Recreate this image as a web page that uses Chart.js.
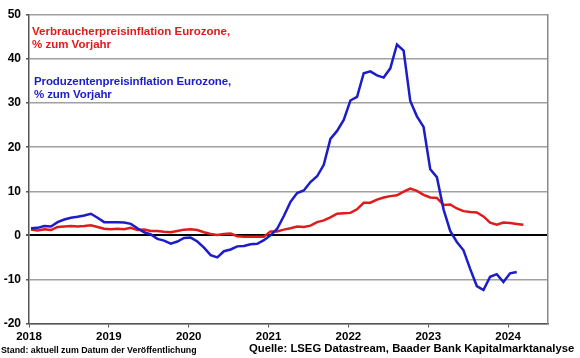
<!DOCTYPE html>
<html lang="de">
<head>
  <meta charset="UTF-8" />
  <title>Inflation Eurozone</title>
  <script src="https://cdn.jsdelivr.net/npm/chart.js"></script>
  <style>
    body {
      margin: 0;
      background: #fff;
      font-family: "Liberation Sans", Arial, sans-serif;
    }
    #wrap {
      position: relative;
      width: 580px;
      height: 358px;
    }
    .note {
      position: absolute;
      font-weight: bold;
      font-size: 11.5px;
      line-height: 12.5px;
      white-space: nowrap;
    }
    #noteCpi { left: 32px; top: 25px; color: #e01b1b; }
    #notePpi { left: 34px; top: 75px; color: #1c1cc8; letter-spacing: -0.1px; }
    .foot {
      position: absolute;
      font-weight: bold;
      white-space: nowrap;
      color: #000;
    }
    #stand { left: 1px; top: 345px; font-size: 8.8px; }
    #quelle { left: 249px; top: 342px; font-size: 11.3px; }
  </style>
</head>
<body>

<div id="wrap">
  <canvas id="chart" width="580" height="358"></canvas>
  <div class="note" id="noteCpi">Verbraucherpreisinflation Eurozone,<br>% zum Vorjahr</div>
  <div class="note" id="notePpi">Produzentenpreisinflation Eurozone,<br>% zum Vorjahr</div>
  <div class="foot" id="stand">Stand: aktuell zum Datum der Veröffentlichung</div>
  <div class="foot" id="quelle">Quelle: LSEG Datastream, Baader Bank Kapitalmarktanalyse</div>
</div>

<script>
  // monthly values starting January 2018
  const startYear = 2018;
  const yearTicks = [2018, 2019, 2020, 2021, 2022, 2023, 2024];

  // Verbraucherpreise (HICP), % yoy, Jan 2018 - Mar 2024
  const cpi = [
    1.3, 1.1, 1.4, 1.2, 1.9, 2.0, 2.1, 2.0, 2.1, 2.3, 1.9, 1.5,
    1.4, 1.5, 1.4, 1.7, 1.2, 1.3, 1.0, 1.0, 0.8, 0.7, 1.0, 1.3,
    1.4, 1.2, 0.7, 0.3, 0.1, 0.3, 0.4, -0.2, -0.3, -0.3, -0.3, -0.3,
    0.9, 0.9, 1.3, 1.6, 2.0, 1.9, 2.2, 3.0, 3.4, 4.1, 4.9, 5.0,
    5.1, 5.9, 7.4, 7.4, 8.1, 8.6, 8.9, 9.1, 9.9, 10.6, 10.1, 9.2,
    8.6, 8.5, 6.9, 7.0, 6.1, 5.5, 5.3, 5.2, 4.3, 2.9, 2.4, 2.9,
    2.8, 2.6, 2.4
  ];

  // Produzentenpreise, % yoy, Jan 2018 - Feb 2024
  const ppi = [
    1.6, 1.7, 2.1, 2.0, 3.0, 3.6, 4.0, 4.2, 4.5, 4.9, 4.0, 3.0,
    3.0, 3.0, 2.9, 2.6, 1.6, 0.7, 0.2, -0.8, -1.2, -1.9, -1.4, -0.6,
    -0.5, -1.4, -2.8, -4.5, -5.0, -3.6, -3.2, -2.5, -2.4, -2.0, -1.9, -1.1,
    0.0, 1.5, 4.4, 7.6, 9.6, 10.2, 12.1, 13.4, 16.0, 21.9, 23.7, 26.2,
    30.6, 31.4, 36.8, 37.2, 36.3, 35.8, 37.9, 43.3, 41.9, 30.5, 27.0, 24.6,
    15.0, 13.2, 5.9, 1.0, -1.5, -3.4, -7.6, -11.5, -12.4, -9.4, -8.8, -10.6,
    -8.6, -8.3
  ];

  const toPoints = arr => arr.map((v, i) => ({ x: startYear + (i + 0.3) / 12, y: v }));

  const tickFont = { family: "'Liberation Sans', Arial, sans-serif", weight: 'bold' };

  new Chart(document.getElementById("chart"), {
    type: 'line',
    data: {
      datasets: [
        {
          label: 'Produzentenpreisinflation',
          data: toPoints(ppi),
          borderColor: '#1c1cc8',
          borderWidth: 2.5,
          pointRadius: 0,
          fill: false,
          tension: 0
        },
        {
          label: 'Verbraucherpreisinflation',
          data: toPoints(cpi),
          borderColor: '#e01b1b',
          borderWidth: 2.5,
          pointRadius: 0,
          fill: false,
          tension: 0
        }
      ]
    },
    options: {
      responsive: false,
      animation: false,
      layout: { padding: { top: 15, right: 32, left: 0, bottom: 0 } },
      plugins: {
        legend: { display: false },
        tooltip: { enabled: false }
      },
      scales: {
        x: {
          type: 'linear',
          min: 2018,
          max: 2024.5,
          afterBuildTicks: s => { s.ticks = yearTicks.map(v => ({ value: v })); },
          afterFit: s => { s.height = 34.5; },
          ticks: {
            color: '#000',
            font: { ...tickFont, size: 11.5 },
            padding: 2,
            maxRotation: 0,
            callback: v => String(v)
          },
          grid: {
            drawOnChartArea: false,
            drawTicks: true,
            tickLength: 4,
            color: '#555'
          },
          border: { color: '#555', width: 1.5 }
        },
        y: {
          min: -20,
          max: 50,
          afterFit: s => { s.width = 29; },
          ticks: {
            stepSize: 10,
            color: '#000',
            font: { ...tickFont, size: 12 },
            padding: 5
          },
          grid: {
            color: c => c.tick && c.tick.value === 0 ? '#000' : '#a0a0a0',
            lineWidth: c => c.tick && c.tick.value === 0 ? 2 : 1.5,
            tickLength: 3,
            tickColor: '#555'
          },
          border: { color: '#555', width: 1.5 }
        },
        yRight: {
          position: 'right',
          min: -20,
          max: 50,
          afterFit: s => { s.width = 0; },
          ticks: { display: false },
          grid: { display: false },
          border: { display: true, color: '#8a8a8a', width: 1.5 }
        }
      }
    }
  });
</script>

</body>
</html>
